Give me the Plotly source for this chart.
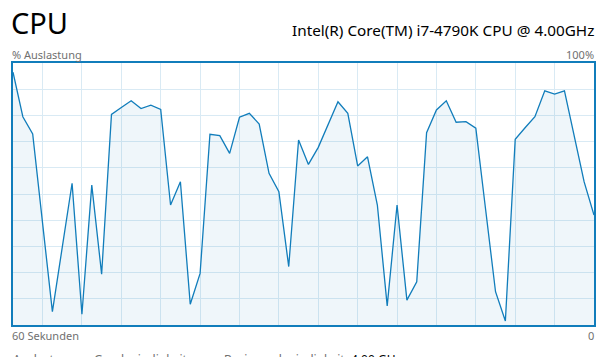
import plotly.graph_objects as go

# ---- data (CPU utilisation %, one sample per second, oldest first) ----
seconds = list(range(60))
cpu_load = [96.5, 79.5, 72.9, 38.5, 5.1, 29.6, 54.1, 4.1, 53.4, 19.4,
            80.4, 83.0, 85.6, 82.6, 83.9, 82.3, 45.8, 54.7, 7.9, 19.7,
            72.8, 72.3, 65.5, 79.3, 80.8, 76.7, 57.9, 50.9, 22.3, 70.6,
            61.3, 67.8, 76.3, 85.2, 80.8, 60.7, 64.2, 45.8, 7.3, 45.8,
            9.5, 16.5, 73.4, 82.1, 85.6, 77.4, 77.6, 75.1, 43.9, 12.7,
            1.5, 70.9, 75.3, 79.5, 89.4, 88.1, 89.4, 71.5, 54.6, 42.0]

title_text = "CPU"
cpu_name = "Intel(R) Core(TM) i7-4790K CPU @ 4.00GHz"
y_label_left = "% Auslastung"
y_label_right = "100%"
x_label_left = "60 Sekunden"
x_label_right = "0"
footer_labels = ["Auslastung", "Geschwindigkeit", "Basisgeschwindigkeit:", "4.00 GHz"]

# ---- layout geometry (pixels) ----
W, H = 616, 357
L, R, T, B = 13, 594, 63, 325

BLUE = "#117dbb"
GRID = "#d9eaf4"
GRAY = "#707070"
FONT = "Noto Sans"


def px(xp):
    return (xp - L) / (R - L)


def py(yp):
    return (B - yp) / (B - T)


fig = go.Figure()
fig.add_trace(go.Scatter(
    x=seconds, y=cpu_load, mode="lines",
    line=dict(color=BLUE, width=1.3),
    fill="tozeroy", fillcolor="rgba(17,125,187,0.065)",
    hoverinfo="skip", showlegend=False,
))

fig.update_xaxes(range=[0, 59], showgrid=True, gridcolor=GRID, gridwidth=1,
                 tick0=3, dtick=4, showticklabels=False, ticks="",
                 zeroline=False, showline=True, linecolor=BLUE, linewidth=1.5,
                 mirror=True, fixedrange=True)
fig.update_yaxes(range=[0, 100], showgrid=True, gridcolor=GRID, gridwidth=1,
                 dtick=10, showticklabels=False, ticks="",
                 zeroline=False, showline=True, linecolor=BLUE, linewidth=1.5,
                 mirror=True, fixedrange=True)

annotations = [
    dict(text=title_text, x=px(10), y=py(23), xanchor="left", yanchor="middle",
         font=dict(family=FONT, size=29, color="#000000")),
    dict(text=cpu_name, x=px(595), y=py(30), xanchor="right", yanchor="middle",
         font=dict(family=FONT, size=15.3, color="#000000")),
    dict(text=y_label_left, x=px(11), y=py(54), xanchor="left", yanchor="middle",
         font=dict(family=FONT, size=11, color=GRAY)),
    dict(text=y_label_right, x=px(595), y=py(54), xanchor="right", yanchor="middle",
         font=dict(family=FONT, size=11, color=GRAY)),
    dict(text=x_label_left, x=px(11), y=py(335), xanchor="left", yanchor="middle",
         font=dict(family=FONT, size=11, color=GRAY)),
    dict(text=x_label_right, x=px(595), y=py(335), xanchor="right", yanchor="middle",
         font=dict(family=FONT, size=11, color=GRAY)),
]
# footer row: only its upper part is visible in the window, as in the reference
footer_x = [12, 93, 223, 350]
for i, (lab, fx) in enumerate(zip(footer_labels, footer_x)):
    annotations.append(dict(
        text=lab, x=px(fx), y=py(350), xanchor="left", yanchor="top",
        font=dict(family=FONT, size=12, color="#000000" if i == 3 else GRAY)))

for a in annotations:
    a.update(xref="paper", yref="paper", showarrow=False, borderpad=0)

fig.update_layout(
    width=W, height=H,
    margin=dict(l=L, r=W - R, t=T, b=H - B, pad=0),
    paper_bgcolor="white", plot_bgcolor="white",
    annotations=annotations,
    font=dict(family=FONT),
)

fig.write_html("out.html", config={"displayModeBar": False})
